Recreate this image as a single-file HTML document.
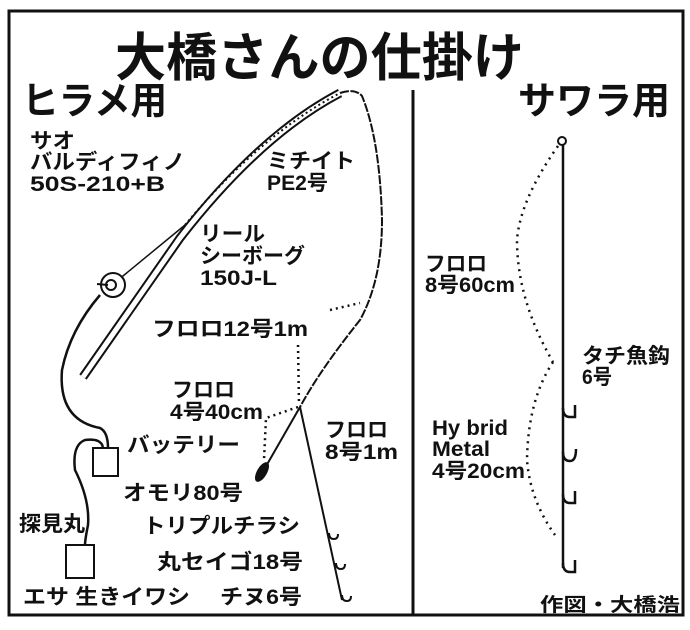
<!DOCTYPE html>
<html><head><meta charset="utf-8"><style>
body{margin:0;background:#fff}
svg text{font-family:"Liberation Sans","Noto Sans CJK JP",sans-serif;font-weight:bold;fill:#111}
</style></head><body>
<svg width="690" height="625" viewBox="0 0 690 625" xmlns="http://www.w3.org/2000/svg">
<rect x="9" y="11" width="674" height="604" fill="none" stroke="#111" stroke-width="3"/>
<line x1="413" y1="90" x2="413" y2="615" stroke="#111" stroke-width="3"/>
<text x="115" y="76" font-size="52" textLength="409" lengthAdjust="spacingAndGlyphs">大橋さんの仕掛け</text>
<text x="22" y="114" font-size="38" textLength="145" lengthAdjust="spacingAndGlyphs">ヒラメ用</text>
<text x="518" y="114" font-size="38" textLength="152" lengthAdjust="spacingAndGlyphs">サワラ用</text>

<!-- rod -->
<path d="M83,377 L180,238 Q260,135 340,93" fill="none" stroke="#111" stroke-width="9"/>
<path d="M83,377 L180,238 Q260,135 340,93" fill="none" stroke="#fff" stroke-width="5"/>
<path d="M185,225 Q260,135 340,93" fill="none" stroke="#111" stroke-width="2" stroke-dasharray="2,3"/>
<path d="M112,285 L185,225" stroke="#111" stroke-width="1.5"/>
<circle cx="113" cy="285" r="12" fill="#fff" stroke="#111" stroke-width="2"/>
<circle cx="111" cy="285" r="5" fill="none" stroke="#111" stroke-width="2"/>
<line x1="97" y1="284" x2="108" y2="285" stroke="#111" stroke-width="2"/>
<path d="M340,93 Q355,88 362,96 Q380,140 382,220 Q382,280 360,320 Q320,370 300,407" fill="none" stroke="#111" stroke-width="2" stroke-dasharray="9,1.5"/>
<path d="M330,310 L360,303" fill="none" stroke="#111" stroke-width="2.5" stroke-dasharray="2,4"/>
<path d="M298,345 L299,405" fill="none" stroke="#111" stroke-width="2.5" stroke-dasharray="2,4"/>
<path d="M298,407 L266,418 L264,460" fill="none" stroke="#111" stroke-width="2.5" stroke-dasharray="2,4"/>
<line x1="300" y1="407" x2="265" y2="468" stroke="#111" stroke-width="2"/>
<ellipse cx="262" cy="472" rx="5" ry="11" transform="rotate(30 262 472)" fill="#111"/>
<path d="M300,407 L342,600" fill="none" stroke="#111" stroke-width="2"/>
<path d="M329,533 q0,6 5,6 q4,0 4,-5 M336,563 q0,6 5,6 q4,0 4,-5 M342,595 q0,6 5,6 q4,0 4,-5" fill="none" stroke="#111" stroke-width="2"/>
<path d="M100,295 Q70,330 62,370 Q58,420 100,428 Q108,432 108,448" fill="none" stroke="#111" stroke-width="2.5"/>
<path d="M103,448 Q102,438 85,440 Q72,445 75,470 Q90,500 88,525 Q85,540 85,545" fill="none" stroke="#111" stroke-width="2.5"/>
<rect x="93" y="448" width="25" height="28" fill="#fff" stroke="#111" stroke-width="2"/>
<rect x="66" y="545" width="28" height="33" fill="#fff" stroke="#111" stroke-width="2"/>

<g font-size="21" lengthAdjust="spacingAndGlyphs">
<text x="30" y="148" textLength="45" lengthAdjust="spacingAndGlyphs">サオ</text>
<text x="30" y="169" textLength="155" lengthAdjust="spacingAndGlyphs">バルディフィノ</text>
<text x="30" y="191" textLength="135" lengthAdjust="spacingAndGlyphs">50S-210+B</text>
<text x="267" y="168" textLength="88" lengthAdjust="spacingAndGlyphs">ミチイト</text>
<text x="267" y="190" textLength="61" lengthAdjust="spacingAndGlyphs">PE2号</text>
<text x="200" y="241" textLength="65" lengthAdjust="spacingAndGlyphs">リール</text>
<text x="200" y="263" textLength="105" lengthAdjust="spacingAndGlyphs">シーボーグ</text>
<text x="200" y="285" textLength="77" lengthAdjust="spacingAndGlyphs">150J-L</text>
<text x="152" y="336" textLength="156" lengthAdjust="spacingAndGlyphs">フロロ12号1m</text>
<text x="172" y="397" textLength="63" lengthAdjust="spacingAndGlyphs">フロロ</text>
<text x="170" y="419" textLength="93" lengthAdjust="spacingAndGlyphs">4号40cm</text>
<text x="325" y="437" textLength="63" lengthAdjust="spacingAndGlyphs">フロロ</text>
<text x="325" y="459" textLength="73" lengthAdjust="spacingAndGlyphs">8号1m</text>
<text x="127" y="452" textLength="113" lengthAdjust="spacingAndGlyphs">バッテリー</text>
<text x="123" y="500" textLength="120" lengthAdjust="spacingAndGlyphs">オモリ80号</text>
<text x="19" y="531" textLength="66" lengthAdjust="spacingAndGlyphs">探見丸</text>
<text x="143" y="533" textLength="157" lengthAdjust="spacingAndGlyphs">トリプルチラシ</text>
<text x="157" y="569" textLength="146" lengthAdjust="spacingAndGlyphs">丸セイゴ18号</text>
<text x="23" y="604" textLength="167" lengthAdjust="spacingAndGlyphs">エサ 生きイワシ</text>
<text x="220" y="604" textLength="82" lengthAdjust="spacingAndGlyphs">チヌ6号</text>
<text x="425" y="271" textLength="62" lengthAdjust="spacingAndGlyphs">フロロ</text>
<text x="425" y="292" textLength="90" lengthAdjust="spacingAndGlyphs">8号60cm</text>
<text x="582" y="363" textLength="88" lengthAdjust="spacingAndGlyphs">タチ魚鈎</text>
<text x="582" y="384" textLength="30" lengthAdjust="spacingAndGlyphs">6号</text>
<text x="432" y="435" textLength="76" lengthAdjust="spacingAndGlyphs">Hy brid</text>
<text x="432" y="456" textLength="58" lengthAdjust="spacingAndGlyphs">Metal</text>
<text x="432" y="478" textLength="93" lengthAdjust="spacingAndGlyphs">4号20cm</text>
<text x="540" y="611" font-size="19" textLength="140" lengthAdjust="spacingAndGlyphs">作図・大橋浩</text>
</g>

<circle cx="562" cy="141" r="4" fill="#fff" stroke="#111" stroke-width="2"/>
<line x1="563" y1="145" x2="563" y2="568" stroke="#111" stroke-width="2.5"/>
<path d="M563,408 q0,9 7,9 h5 v-12 M563,452 q0,9 7,9 q6,0 6,-12 M563,494 q0,9 7,9 h5 v-12 M563,563 q0,9 7,9 h5 v-12" fill="none" stroke="#111" stroke-width="2.5"/>
<path d="M558,146 Q520,200 517,240 Q517,300 553,362" fill="none" stroke="#111" stroke-width="2.5" stroke-dasharray="2,5"/>
<path d="M553,362 Q528,400 527,460 Q530,500 555,535" fill="none" stroke="#111" stroke-width="2.5" stroke-dasharray="2,5"/>
</svg>
</body></html>
